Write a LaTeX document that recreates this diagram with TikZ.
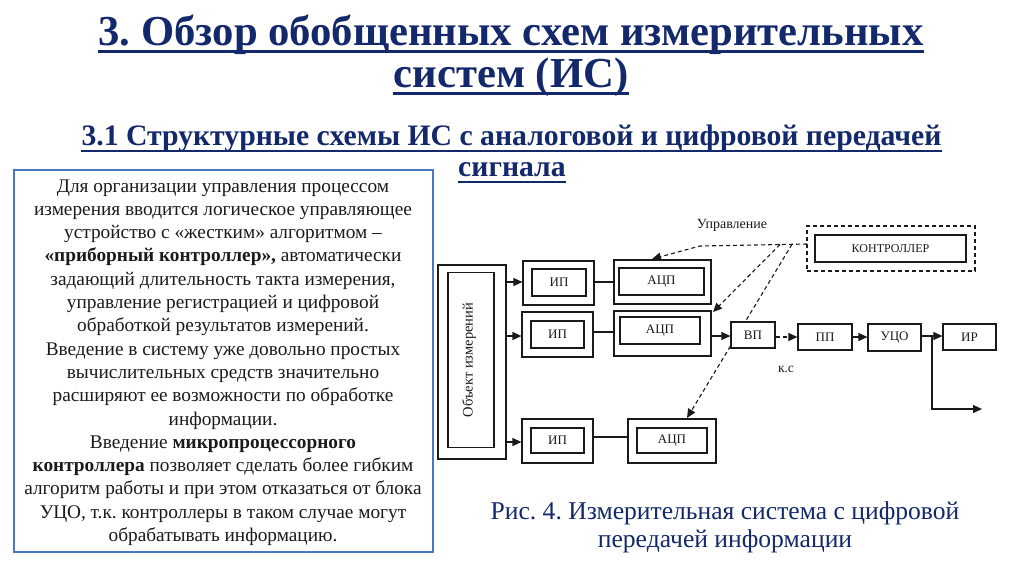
\documentclass[tikz,border=0pt]{standalone}
\usepackage{fontspec}
\setmainfont{Liberation Serif}
\usetikzlibrary{arrows.meta}
\definecolor{navy}{HTML}{13296B}
\definecolor{boxblue}{HTML}{4A78C4}
\definecolor{ink}{HTML}{1A1A1A}
\frenchspacing
\begin{document}
\begin{tikzpicture}[x=1pt,y=-1pt,
  blk/.style={draw=ink,line width=1.2pt,fill=white,inner sep=0pt},
  lbl/.style={font=\fontsize{13}{15}\selectfont,text=ink},
  arr/.style={draw=ink,-{Triangle[length=9pt,width=8pt]},line width=1.2pt},
  dline/.style={draw=ink,line width=1.1pt,dash pattern=on 4pt off 3pt},
  darr/.style={dline,-{Triangle[length=9pt,width=8pt]}},
  ttl/.style={inner sep=0pt,anchor=base,text=navy,font=\bfseries\fontsize{42.7}{46}\selectfont},
  sub/.style={inner sep=0pt,anchor=base,text=navy,font=\bfseries\fontsize{29.7}{32}\selectfont},
  uline/.style={draw=navy,line width=3pt}]
\useasboundingbox (0,0) rectangle (1024,574);

% titles
\node[ttl] (t1) at (511,45) {3. Обзор обобщенных схем измерительных};
\node[ttl] (t2) at (511,87) {систем (ИС)};
\draw[uline] ([yshift=-6.5pt]t1.base west) -- ([yshift=-6.5pt]t1.base east);
\draw[uline] ([yshift=-6.5pt]t2.base west) -- ([yshift=-6.5pt]t2.base east);
\node[sub] (s1) at (511.5,145) {3.1 Структурные схемы ИС с аналоговой и цифровой передачей};
\node[sub] (s2) at (512,176) {сигнала};
\draw[uline,line width=2.5pt] ([yshift=-6pt]s1.base west) -- ([yshift=-6pt]s1.base east);
\draw[uline,line width=2.5pt] ([yshift=-6pt]s2.base west) -- ([yshift=-6pt]s2.base east);

% left text box
\node[draw=boxblue,line width=2.5pt,minimum width=419pt,minimum height=382pt,inner sep=0pt] (tb) at (223.5,361) {};
\node[align=center,text=ink,font=\fontsize{19.3}{23.3}\selectfont,inner sep=0pt] (txt) at (223,362.5) {%
Для организации управления процессом\\
измерения вводится логическое управляющее\\
устройство с «жестким» алгоритмом –\\
\textbf{«приборный контроллер»,} автоматически\\
задающий длительность такта измерения,\\
управление регистрацией и цифровой\\
обработкой результатов измерений.\\
Введение в систему уже довольно простых\\
вычислительных средств значительно\\
расширяют ее возможности по обработке\\
информации.\\
Введение \textbf{микропроцессорного}\\
\textbf{контроллера} позволяет сделать более гибким\\
алгоритм работы и при этом отказаться от блока\\
УЦО, т.к. контроллеры в таком случае могут\\
обрабатывать информацию.};

% object of measurement
\node[blk,minimum width=68pt,minimum height=194pt] (obj) at (472,362) {};
\node[blk,minimum width=46pt,minimum height=175pt] (objin) at (471,360) {};
\node[lbl,rotate=90,font=\fontsize{14.5}{16}\selectfont] (objt) at (469,360) {Объект измерений};

% row 1
\node[blk,minimum width=71pt,minimum height=44pt] (ip1) at (558.5,283) {};
\node[blk,minimum width=54pt,minimum height=27pt,lbl] (ip1i) at (559,282.5) {ИП};
\node[blk,minimum width=97pt,minimum height=44pt] (adc1) at (662.5,282) {};
\node[blk,minimum width=85pt,minimum height=27pt,lbl] (adc1i) at (661.5,281.5) {АЦП};
% row 2
\node[blk,minimum width=71pt,minimum height=45pt] (ip2) at (557.5,334.5) {};
\node[blk,minimum width=53pt,minimum height=27pt,lbl] (ip2i) at (557.5,334.5) {ИП};
\node[blk,minimum width=97pt,minimum height=45pt] (adc2) at (662.5,333.5) {};
\node[blk,minimum width=80pt,minimum height=27pt,lbl] (adc2i) at (660,330.5) {АЦП};
% row 3
\node[blk,minimum width=71pt,minimum height=44pt] (ip3) at (557.5,441) {};
\node[blk,minimum width=53pt,minimum height=25pt,lbl] (ip3i) at (557.5,440.5) {ИП};
\node[blk,minimum width=88pt,minimum height=44pt] (adc3) at (672,441) {};
\node[blk,minimum width=70pt,minimum height=25pt,lbl] (adc3i) at (672,440.5) {АЦП};

% controller
\node[dline,fill=white,minimum width=168pt,minimum height=45pt,inner sep=0pt] (ctrl) at (891,248.5) {};
\node[blk,minimum width=151pt,minimum height=27pt,lbl,font=\fontsize{12}{14}\selectfont] (ctrli) at (890.5,248.5) {КОНТРОЛЛЕР};
\node[lbl,font=\fontsize{14}{16}\selectfont,anchor=center] (upr) at (732,225) {Управление};

% control lines
\coordinate (c0) at (807,244);
\coordinate (c1) at (700,246);
\coordinate (c2) at (780,244.5);
\coordinate (c3) at (792,244.3);
\coordinate (a1) at (652,259);
\coordinate (a2) at (713,312);
\coordinate (a3) at (687,418);
\draw[darr] (c0) -- (c1) -- (a1);
\draw[darr] (c2) -- (a2);
\draw[darr] (c3) -- (a3);

% output chain
\node[blk,minimum width=44pt,minimum height=26pt,lbl] (vp) at (753,335) {ВП};
\node[blk,minimum width=54pt,minimum height=26pt,lbl] (pp) at (825,337) {ПП};
\node[blk,minimum width=53pt,minimum height=27pt,lbl] (uco) at (894.5,337.5) {УЦО};
\node[blk,minimum width=53pt,minimum height=26pt,lbl] (ir) at (969.5,337) {ИР};
\node[lbl,font=\fontsize{13.5}{15}\selectfont] (ks) at (786,369) {к.с};
\coordinate (br) at (932,336);
\coordinate (brd) at (932,409);
\coordinate (out) at (982,409);

% connectors
\draw[arr] (obj.east |- 0,282) -- (ip1.west |- 0,282);
\draw[arr] (obj.east |- 0,336) -- (ip2.west |- 0,336);
\draw[arr] (obj.east |- 0,442) -- (ip3.west |- 0,442);
\draw[draw=ink,line width=1.2pt] (ip1.east |- 0,282) -- (adc1.west |- 0,282);
\draw[draw=ink,line width=1.2pt] (ip2.east |- 0,332) -- (adc2.west |- 0,332);
\draw[draw=ink,line width=1.2pt] (ip3.east |- 0,437) -- (adc3.west |- 0,437);
\draw[arr] (adc2.east |- 0,336) -- (vp.west |- 0,336);
\draw[darr] (vp.east |- 0,337) -- (pp.west |- 0,337);
\draw[arr] (pp.east |- 0,337) -- (uco.west |- 0,337);
\draw[arr] (uco.east |- 0,336) -- (ir.west |- 0,336);
\draw[arr] (br) -- (brd) -- (out);

% caption
\node[align=center,text=navy,font=\fontsize{25.6}{28}\selectfont,inner sep=0pt] (cap) at (725,527) {Рис. 4. Измерительная система с цифровой\\передачей информации};
\end{tikzpicture}
\end{document}
